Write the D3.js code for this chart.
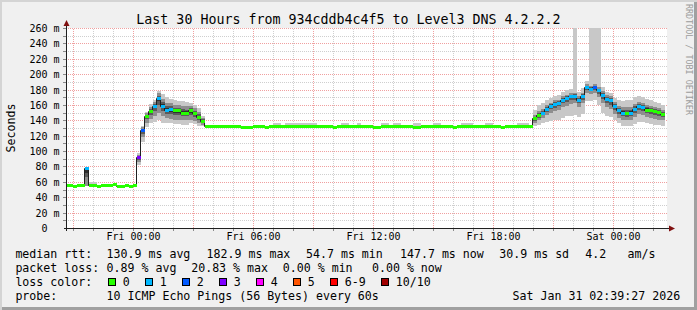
<!DOCTYPE html>
<html>
<head>
<meta charset="utf-8">
<script src="https://cdn.jsdelivr.net/npm/d3@7"></script>
<style>
  html, body { margin: 0; padding: 0; background: #f0f0f0; }
  svg { display: block; }
</style>
</head>
<body>
<div id="chart"></div>
<script>
// data
const title = 'Last 30 Hours from 934cddb4c4f5 to Level3 DNS 4.2.2.2'
const startTime = new Date(2026, 0, 29, 20, 39, 27)
const endTime = new Date(2026, 0, 31, 2, 39, 27)
const firstStep = new Date(2026, 0, 29, 20, 36, 0)
const stepMinutes = 12
const yTicks = [0, 20, 40, 60, 80, 100, 120, 140, 160, 180, 200, 220, 240, 260]

// median round trip time per 12 min step (ms)
const rttMedian = [
  55.5, 55.5, 54.3, 55.5, 55.5, 77.5, 55.5, 55.5, 54.3, 55.5,
  55.5, 55.5, 56.8, 54.3, 54.3, 55.5, 54.3, 55.5, 92, 127,
  145.5, 151.5, 159, 169.5, 159, 154, 154.5, 152.8, 152.8, 150,
  150, 152.8, 149, 144.6, 139.4, 132, 132, 132, 132, 132,
  132, 132, 132, 132, 130.8, 130.8, 130.8, 132, 132, 133.2,
  130.8, 132, 132, 132, 132, 132, 132, 133.2, 132, 132,
  132, 133.2, 133.2, 133.2, 132, 132, 132, 130.8, 132, 132,
  132, 132, 132, 132, 132, 132, 132, 130.8, 130.8, 132,
  132, 132, 132, 132, 132, 132, 132, 130.8, 130.8, 132,
  132, 132, 132, 132, 132, 132, 132, 130.8, 132, 132,
  132, 132, 132, 132, 132, 132, 132, 132, 132, 130.8,
  132, 132, 132, 132, 132, 132, 132, 142.4, 146.3, 150,
  155, 158.5, 161, 162.5, 167, 169, 171, 172, 167, 172,
  183, 181, 183, 179, 173, 168, 166, 158.5, 153, 150,
  149.5, 150, 155, 158, 157.5, 154, 153, 151.5, 150.5, 148.5,
]

// lost pings out of 10 per step
const lossCount = [
  0, 0, 0, 0, 0, 1, 0, 0, 0, 0,
  0, 0, 0, 0, 0, 0, 0, 0, 3, 2,
  0, 0, 1, 1, 1, 1, 1, 0, 0, 0,
  0, 0, 0, 0, 0, 0, 0, 0, 0, 0,
  0, 0, 0, 0, 0, 0, 0, 0, 0, 0,
  0, 0, 0, 0, 0, 0, 0, 0, 0, 0,
  0, 0, 0, 0, 0, 0, 0, 0, 0, 0,
  0, 0, 0, 0, 0, 0, 0, 0, 0, 0,
  0, 0, 0, 0, 0, 0, 0, 0, 0, 0,
  0, 0, 0, 0, 0, 0, 0, 0, 0, 0,
  0, 0, 0, 0, 0, 0, 0, 0, 0, 0,
  0, 0, 0, 0, 0, 0, 0, 0, 0, 1,
  1, 1, 1, 1, 1, 1, 1, 1, 1, 1,
  1, 1, 2, 1, 1, 1, 1, 1, 1, 1,
  0, 1, 1, 1, 1, 0, 0, 0, 0, 0,
]

// smoke: lowest and highest ping per step (ms)
const smokeMin = [
  54.5, 54.5, 53.8, 54.5, 54.5, 54.5, 54.5, 54.5, 53.8, 54.5,
  54.5, 54.5, 55.5, 53.8, 53.8, 54.5, 53.8, 54.5, 82, 112,
  131, 137, 138, 141, 137, 136, 136, 135, 135, 134,
  134, 136, 135, 133, 133, 131, 131, 131, 131, 131,
  131, 131, 131, 131, 130, 130, 130, 131, 131, 131.5,
  130, 131, 131, 131, 131, 131, 131, 131.5, 131, 131,
  131, 131.5, 131.5, 131.5, 131, 131, 131, 130, 131, 131,
  131, 131, 131, 131, 131, 131, 131, 130, 130, 131,
  131, 131, 131, 131, 131, 131, 131, 130, 130, 131,
  131, 131, 131, 131, 131, 131, 131, 130, 131, 131,
  131, 131, 131, 131, 131, 131, 131, 131, 131, 130,
  131, 131, 131, 131, 131, 131, 131, 132, 134, 136,
  138, 139, 140, 141, 143, 145, 146, 147, 144, 148,
  165, 165, 166, 160, 150, 146, 144, 140, 136, 133,
  132, 132, 135, 138, 138, 136, 135, 134, 134, 133,
]
const smokeMax = [
  57, 57, 56, 57, 57, 78.5, 59.5, 59.5, 56, 57,
  57, 57.5, 58, 56, 56, 57, 56, 57, 97, 133,
  151, 161, 167, 178, 174, 170, 168, 166, 165, 165,
  164, 163, 160, 156, 146, 133.5, 133.5, 133.5, 133.5, 133.5,
  133.5, 133.5, 133.5, 133.5, 132.5, 132.5, 132.5, 133.5, 133.5, 134.5,
  132.5, 133.5, 136, 136, 133.5, 136, 136, 136, 136, 136,
  136, 136, 136, 134.5, 133.5, 133.5, 133.5, 132.5, 133.5, 136,
  136, 133.5, 133.5, 136, 133.5, 133.5, 133.5, 132.5, 132.5, 136,
  136, 133.5, 136, 136, 133.5, 133.5, 133.5, 136, 136, 133.5,
  133.5, 133.5, 136, 136, 133.5, 133.5, 133.5, 132.5, 133.5, 136,
  136, 136, 133.5, 133.5, 133.5, 136, 136, 133.5, 133.5, 132.5,
  133.5, 133.5, 133.5, 136, 136, 136, 133.5, 154, 160, 162,
  166, 169, 171, 173, 177, 179, 181, 280, 177, 182,
  191, 280, 280, 280, 183, 177, 175, 169, 166, 165,
  166, 167, 170, 172, 170, 168, 166, 164, 162, 160,
]

// smoke: dense middle of the pings per step (ms)
const coreMin = [
  55, 55, 54, 55, 55, 55, 55, 55, 54, 55,
  55, 55, 56, 54, 54, 55, 54, 55, 86, 118,
  137, 142, 145, 150, 145, 143, 142, 141, 141, 140,
  140, 141, 139, 137, 134, 131.5, 131.5, 131.5, 131.5, 131.5,
  131.5, 131.5, 131.5, 131.5, 130.3, 130.3, 130.3, 131.5, 131.5, 132.5,
  130.3, 131.5, 131.5, 131.5, 131.5, 131.5, 131.5, 132.5, 131.5, 131.5,
  131.5, 132.5, 132.5, 132.5, 131.5, 131.5, 131.5, 130.3, 131.5, 131.5,
  131.5, 131.5, 131.5, 131.5, 131.5, 131.5, 131.5, 130.3, 130.3, 131.5,
  131.5, 131.5, 131.5, 131.5, 131.5, 131.5, 131.5, 130.3, 130.3, 131.5,
  131.5, 131.5, 131.5, 131.5, 131.5, 131.5, 131.5, 130.3, 131.5, 131.5,
  131.5, 131.5, 131.5, 131.5, 131.5, 131.5, 131.5, 131.5, 131.5, 130.3,
  131.5, 131.5, 131.5, 131.5, 131.5, 131.5, 131.5, 137, 140, 143,
  147, 150, 152, 154, 157, 159, 161, 162, 157, 162,
  175, 174, 175, 170, 163, 157, 155, 148, 143, 140,
  140, 140, 144, 148, 147, 144, 143, 142, 141, 140,
]
const coreMax = [
  56, 56, 55, 56, 56, 77.5, 56.5, 56.5, 55, 56,
  56, 56, 57.5, 55, 55, 56, 55, 56, 95, 131,
  149, 157, 164, 175, 168, 163, 162, 160, 160, 159,
  158, 158, 156, 151, 143, 133, 133, 133, 133, 133,
  133, 133, 133, 133, 131.8, 131.8, 131.8, 133, 133, 134.2,
  131.8, 133, 133, 133, 133, 133, 133, 134.2, 133, 133,
  133, 134.2, 134.2, 134.2, 133, 133, 133, 131.8, 133, 133,
  133, 133, 133, 133, 133, 133, 133, 131.8, 131.8, 133,
  133, 133, 133, 133, 133, 133, 133, 131.8, 131.8, 133,
  133, 133, 133, 133, 133, 133, 133, 131.8, 133, 133,
  133, 133, 133, 133, 133, 133, 133, 133, 133, 131.8,
  133, 133, 133, 133, 133, 133, 133, 147, 152, 155,
  160, 163, 166, 167, 171, 173, 175, 176, 172, 176,
  187, 185, 187, 183, 178, 173, 171, 164, 159, 157,
  157, 157, 161, 164, 163, 160, 159, 157, 156, 154,
]

// legend
const lossLabels = ['0', '1', '2', '3', '4', '5', '6-9', '10/10']
const lossColors = ['#26ff00', '#00b8ff', '#0059ff', '#7e00ff', '#ff00ff', '#ff5500', '#ff0000', '#a10000']
const rttStats = ['130.9 ms avg', '182.9 ms max', '54.7 ms min', '147.7 ms now', '30.9 ms sd', '4.2', 'am/s']
const lossStats = ['0.89 % avg', '20.83 % max', '0.00 % min', '0.00 % now']
const probeText = '10 ICMP Echo Pings (56 Bytes) every 60s'
const stampText = 'Sat Jan 31 02:39:27 2026'

// format
const mono = "'DejaVu Sans Mono', monospace"
const lossIndex = n => (n <= 5 ? n : n < 10 ? 6 : 7)
const stepTime = i => d3.timeMinute.offset(firstStep, stepMinutes * i)

// size
const W = 697
const H = 310
const plotLeft = 66
const plotTop = 28
const plotBottom = 228

// scale
const x = d3
  .scaleTime()
  .domain([startTime, endTime])
  .rangeRound([66.15, 666.15])

const y = d3
  .scaleLinear()
  .domain([0, 260])
  .rangeRound([plotBottom, plotTop])

const svg = d3
  .select('#chart')
  .append('svg')
  .attr('width', W)
  .attr('height', H)
  .attr('font-family', mono)

// frame
svg.append('rect').attr('width', W).attr('height', H).attr('fill', '#f0f0f0')
svg.append('path').attr('d', `M0,0H${W}V2H2V${H}H0Z`).attr('fill', '#d4d4d4')
svg.append('path').attr('d', `M${W - 3},2H${W}V${H}H2V${H - 3}H${W - 3}Z`).attr('fill', '#a0a0a0')

// canvas
svg
  .append('rect')
  .attr('x', plotLeft)
  .attr('y', plotTop)
  .attr('width', 601)
  .attr('height', plotBottom - plotTop + 1)
  .attr('fill', '#fff')

svg
  .append('clipPath')
  .attr('id', 'plot-clip')
  .append('rect')
  .attr('x', plotLeft + 1)
  .attr('y', plotTop)
  .attr('width', 600)
  .attr('height', plotBottom - plotTop)

// title
svg
  .append('text')
  .attr('x', W / 2)
  .attr('y', 24)
  .attr('text-anchor', 'middle')
  .attr('font-size', '13.3px')
  .text(title)

// watermark
svg
  .append('text')
  .attr('transform', 'translate(686, 4) rotate(90)')
  .attr('font-size', '8.4px')
  .attr('fill', '#9c9c9c')
  .text('RRDTOOL / TOBI OETIKER')

// y-axis label
svg
  .append('text')
  .attr('transform', `translate(15, ${(plotTop + plotBottom) / 2}) rotate(-90)`)
  .attr('text-anchor', 'middle')
  .attr('font-size', '11.6px')
  .text('Seconds')

// grid
const gridStyle = (g, color) =>
  g
    .call(s => s.select('.domain').remove())
    .selectAll('line')
    .attr('stroke', color)
    .attr('stroke-dasharray', '1,1')

svg
  .append('g')
  .attr('transform', `translate(0, ${plotBottom})`)
  .call(
    d3
      .axisBottom(x)
      .ticks(d3.timeHour.every(1))
      .tickSize(-(plotBottom - plotTop))
      .tickFormat(''),
  )
  .call(g => gridStyle(g, '#cfcfcf'))

svg
  .append('g')
  .attr('transform', `translate(${plotLeft}, 0)`)
  .call(
    d3
      .axisLeft(y)
      .tickValues(yTicks.map(v => v + 10).filter(v => v < 260))
      .tickSize(-601)
      .tickFormat(''),
  )
  .call(g => gridStyle(g, '#cfcfcf'))

svg
  .append('g')
  .attr('transform', `translate(0, ${plotBottom})`)
  .call(
    d3
      .axisBottom(x)
      .ticks(d3.timeHour.every(3))
      .tickSize(-(plotBottom - plotTop))
      .tickFormat(''),
  )
  .call(g => gridStyle(g, '#f0a0a0'))

svg
  .append('g')
  .attr('transform', `translate(${plotLeft}, 0)`)
  .call(
    d3
      .axisLeft(y)
      .tickValues(yTicks.filter(v => v > 0))
      .tickSize(-601)
      .tickFormat(''),
  )
  .call(g => gridStyle(g, '#f0a0a0'))

// smoke and median
const steps = rttMedian.map((m, i) => ({
  t0: stepTime(i),
  t1: stepTime(i + 1),
  median: m,
  loss: lossCount[i],
  min: smokeMin[i],
  max: smokeMax[i],
  cmin: coreMin[i],
  cmax: coreMax[i],
}))

const plot = svg.append('g').attr('clip-path', 'url(#plot-clip)')

const smokeLayers = [
  { color: '#c8c8c8', lo: d => d.min, hi: d => d.max },
  { color: '#8e8e8e', lo: d => d.cmin, hi: d => d.cmax },
  { color: '#5a5a5a', lo: d => (d.cmin + d.median) / 2, hi: d => (d.cmax + d.median) / 2 },
  { color: '#2e2e2e', lo: d => d.median - (d.median - d.cmin) / 4, hi: d => d.median + (d.cmax - d.median) / 4 },
]

smokeLayers.forEach(layer => {
  plot
    .append('g')
    .selectAll('rect')
    .data(steps)
    .join('rect')
    .attr('x', d => x(d.t0))
    .attr('width', d => x(d.t1) - x(d.t0))
    .attr('y', d => y(layer.hi(d)))
    .attr('height', d => Math.max(1, y(layer.lo(d)) - y(layer.hi(d))))
    .attr('fill', layer.color)
})

const medianLine = d3
  .line()
  .x(d => x(d.t) - 0.5)
  .y(d => y(d.v) + 0.5)
  .curve(d3.curveStepAfter)

plot
  .append('path')
  .datum(
    steps
      .map(d => ({ t: d.t0, v: d.median }))
      .concat([{ t: steps[steps.length - 1].t1, v: rttMedian[rttMedian.length - 1] }]),
  )
  .attr('d', medianLine)
  .attr('fill', 'none')
  .attr('stroke', '#202020')
  .attr('stroke-width', 1)

plot
  .append('g')
  .selectAll('rect')
  .data(steps)
  .join('rect')
  .attr('x', d => x(d.t0))
  .attr('width', d => x(d.t1) - x(d.t0))
  .attr('y', d => y(d.median) - 1)
  .attr('height', 3)
  .attr('fill', d => lossColors[lossIndex(d.loss)])

// axis ticks
svg
  .append('g')
  .attr('transform', `translate(0, ${plotBottom})`)
  .call(d3.axisBottom(x).ticks(d3.timeHour.every(1)).tickSize(3).tickFormat(''))
  .call(g => g.select('.domain').remove())
  .call(g => g.selectAll('line').attr('stroke', '#8a8a8a'))

svg
  .append('g')
  .attr('transform', `translate(${plotLeft}, 0)`)
  .call(d3.axisLeft(y).tickValues(d3.range(10, 261, 10)).tickSize(3).tickFormat(''))
  .call(g => g.select('.domain').remove())
  .call(g => g.selectAll('line').attr('stroke', '#8a8a8a'))

// axis lines and arrows
svg
  .append('path')
  .attr('d', `M${plotLeft - 2},${plotBottom + 0.5}H670`)
  .attr('stroke', '#202020')
svg
  .append('path')
  .attr('d', `M${plotLeft + 0.5},${plotBottom + 3}V25`)
  .attr('stroke', '#202020')
svg
  .append('path')
  .attr('d', `M669,${plotBottom - 2.5}V${plotBottom + 3.5}L675,${plotBottom + 0.5}Z`)
  .attr('fill', '#801010')
svg
  .append('path')
  .attr('d', `M${plotLeft - 2.5},26H${plotLeft + 3.5}L${plotLeft + 0.5},20Z`)
  .attr('fill', '#801010')

// x-axis labels
svg
  .append('g')
  .attr('transform', `translate(0, ${plotBottom})`)
  .call(
    d3
      .axisBottom(x)
      .ticks(d3.timeHour.every(6))
      .tickSize(0)
      .tickFormat(d3.timeFormat('%a %H:%M')),
  )
  .attr('font-family', mono)
  .attr('font-size', '10px')
  .call(g => g.select('.domain').remove())
  .call(g => g.selectAll('text').attr('y', 12).attr('dy', null).attr('fill', '#000'))

// y-axis labels
svg
  .append('g')
  .attr('transform', `translate(${plotLeft + 0.5}, 0)`)
  .call(
    d3
      .axisLeft(y)
      .tickValues(yTicks)
      .tickSize(0)
      .tickPadding(7)
      .tickFormat(d => (d === 0 ? '0\u00a0\u00a0' : `${d} m`)),
  )
  .attr('font-family', mono)
  .attr('font-size', '10px')
  .call(g => g.select('.domain').remove())
  .call(g => g.selectAll('text').attr('fill', '#000'))

// legend
const legend = svg.append('g').attr('font-size', '11.6px').attr('fill', '#000')
const rows = [258, 272, 285.8, 299.6]
const rttCols = [106.6, 206.6, 306, 400, 499.3, 585.3, 627.6]
const lossCols = [106.6, 191.2, 282.8, 372]
const boxCols = [108.5, 145.5, 182.5, 219.5, 256.5, 293.5, 330.5, 381.5]

legend.append('text').attr('x', 15.4).attr('y', rows[0]).text('median rtt:')
rttStats.forEach((s, i) => {
  legend.append('text').attr('x', rttCols[i]).attr('y', rows[0]).text(s)
})

legend.append('text').attr('x', 15.4).attr('y', rows[1]).text('packet loss:')
lossStats.forEach((s, i) => {
  legend.append('text').attr('x', lossCols[i]).attr('y', rows[1]).text(s)
})

legend.append('text').attr('x', 15.4).attr('y', rows[2]).text('loss color:')
lossLabels.forEach((l, i) => {
  legend
    .append('rect')
    .attr('x', boxCols[i])
    .attr('y', 278.5)
    .attr('width', 7)
    .attr('height', 7)
    .attr('fill', lossColors[i])
    .attr('stroke', '#000')
  legend
    .append('text')
    .attr('x', boxCols[i] + 14.3)
    .attr('y', rows[2])
    .text(l)
})

legend.append('text').attr('x', 15.4).attr('y', rows[3]).text('probe:')
legend.append('text').attr('x', 106.6).attr('y', rows[3]).text(probeText)
legend.append('text').attr('x', 512.6).attr('y', rows[3]).text(stampText)
</script>
</body>
</html>
